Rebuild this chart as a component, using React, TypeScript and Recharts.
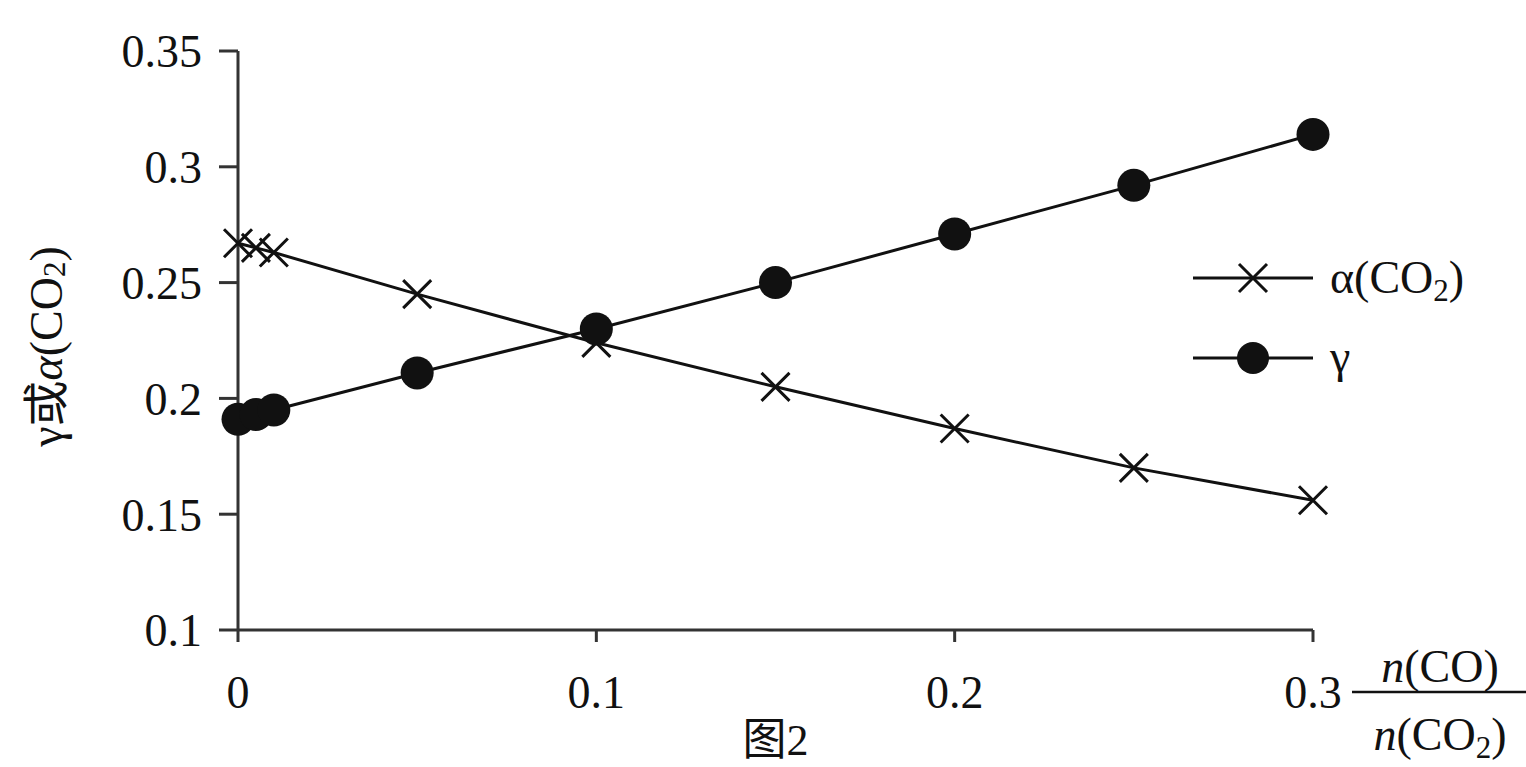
import { LineChart, Line, XAxis, YAxis, Legend, Label } from 'recharts';

const ratios = [0, 0.005, 0.01, 0.05, 0.1, 0.15, 0.2, 0.25, 0.3];
const alphaCO2 = [0.267, 0.265, 0.263, 0.245, 0.224, 0.205, 0.187, 0.17, 0.156];
const gammaVals = [0.191, 0.193, 0.195, 0.211, 0.23, 0.25, 0.271, 0.292, 0.314];
const xTicks = [0, 0.1, 0.2, 0.3];
const yTicks = [0.1, 0.15, 0.2, 0.25, 0.3, 0.35];

const data = ratios.map((x, i) => ({ x, alpha: alphaCO2[i], gamma: gammaVals[i] }));

const FONT = "'Liberation Serif', 'Noto Sans CJK SC', serif";
const INK = '#111';

const CrossDot = (props: any) => {
  const { cx, cy } = props;
  if (cx == null || cy == null) return null;
  const s = 14;
  return (
    <path
      d={`M${cx - s},${cy - s}L${cx + s},${cy + s}M${cx - s},${cy + s}L${cx + s},${cy - s}`}
      stroke={INK}
      strokeWidth={3}
      fill="none"
    />
  );
};

const RoundDot = (props: any) => {
  const { cx, cy } = props;
  if (cx == null || cy == null) return null;
  return <circle cx={cx} cy={cy} r={16.5} fill={INK} />;
};

const renderLegend = () => (
  <svg width={336} height={150} style={{ display: 'block', overflow: 'visible' }}>
    <g>
      <line x1={3} y1={28} x2={123} y2={28} stroke={INK} strokeWidth={3} />
      <path d="M49,14L77,42M49,42L77,14" stroke={INK} strokeWidth={3} />
      <text x={140} y={43} fontFamily={FONT} fontSize={46} fill={INK}>
        α(CO<tspan dy={8} fontSize={31}>2</tspan><tspan dy={-8}>)</tspan>
      </text>
    </g>
    <g>
      <line x1={3} y1={108} x2={123} y2={108} stroke={INK} strokeWidth={3} />
      <circle cx={63} cy={108} r={16} fill={INK} />
      <text x={140} y={122} fontFamily={FONT} fontSize={46} fill={INK}>γ</text>
    </g>
  </svg>
);

const YLabel = (props: any) => {
  const { viewBox } = props;
  const cx = viewBox.x + 46;
  const cy = viewBox.y + viewBox.height / 2 + 6;
  return (
    <text
      x={cx}
      y={cy}
      transform={`rotate(-90, ${cx}, ${cy})`}
      textAnchor="middle"
      dominantBaseline="central"
      fontFamily={FONT}
      fontSize={46}
      fill={INK}
    >
      γ或<tspan fontStyle="italic">α</tspan>(CO<tspan dy={8} fontSize={31}>2</tspan><tspan dy={-8}>)</tspan>
    </text>
  );
};

const XLabel = (props: any) => {
  const { viewBox } = props;
  const cx = viewBox.x + viewBox.width + 127;
  const top = viewBox.y;
  return (
    <g fontFamily={FONT} fontSize={46} fill={INK}>
      <text x={cx} y={top + 52} textAnchor="middle">
        <tspan fontStyle="italic">n</tspan>(CO)
      </text>
      <line x1={cx - 88} y1={top + 62} x2={cx + 88} y2={top + 62} stroke={INK} strokeWidth={2.5} />
      <text x={cx} y={top + 120} textAnchor="middle">
        <tspan fontStyle="italic">n</tspan>(CO<tspan dy={8} fontSize={31}>2</tspan><tspan dy={-8}>)</tspan>
      </text>
    </g>
  );
};

const Caption = (props: any) => {
  const { viewBox } = props;
  return (
    <text
      x={viewBox.x + viewBox.width / 2}
      y={viewBox.y + 125}
      textAnchor="middle"
      fontFamily={FONT}
      fontSize={44}
      fill={INK}
    >
      图2
    </text>
  );
};

export default function App() {
  return (
    <div style={{ position: 'absolute', left: 0, top: 0, width: 1526, height: 767, overflow: 'hidden', background: '#fff' }}>
      <LineChart width={1526} height={767} data={data} margin={{ top: 51, right: 213, bottom: 77, left: 0 }}>
        <XAxis
          type="number"
          dataKey="x"
          domain={[0, 0.3]}
          ticks={xTicks}
          height={60}
          stroke="#333"
          strokeWidth={3}
          tickSize={12}
          tickMargin={33}
          tick={{ fill: INK, fontSize: 46, fontFamily: FONT }}
          tickLine={{ stroke: '#333', strokeWidth: 3 }}
        >
          <Label content={<XLabel />} />
          <Label content={<Caption />} />
        </XAxis>
        <YAxis
          type="number"
          domain={[0.1, 0.35]}
          ticks={yTicks}
          width={238}
          stroke="#333"
          strokeWidth={3}
          tickSize={19}
          tickMargin={17}
          tick={{ fill: INK, fontSize: 46, fontFamily: FONT }}
          tickLine={{ stroke: '#333', strokeWidth: 3 }}
        >
          <Label content={<YLabel />} />
        </YAxis>
        <Legend
          layout="vertical"
          align="center"
          verticalAlign="middle"
          content={renderLegend}
          wrapperStyle={{ position: 'absolute', left: 1190, top: 250, width: 336, height: 150 }}
        />
        <Line
          type="linear"
          dataKey="alpha"
          name="α(CO2)"
          stroke={INK}
          strokeWidth={3}
          dot={<CrossDot />}
          activeDot={false}
          isAnimationActive={false}
        />
        <Line
          type="linear"
          dataKey="gamma"
          name="γ"
          stroke={INK}
          strokeWidth={3}
          dot={<RoundDot />}
          activeDot={false}
          isAnimationActive={false}
        />
      </LineChart>
    </div>
  );
}
